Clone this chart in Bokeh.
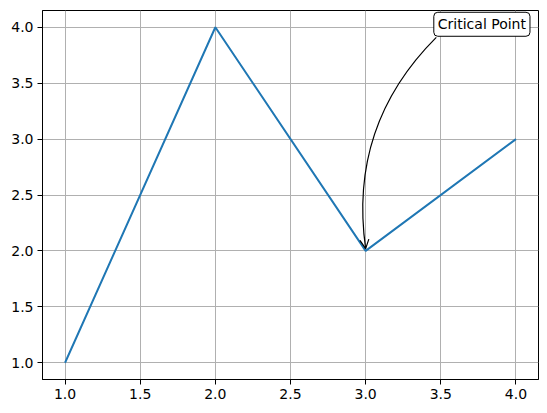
from bokeh.plotting import figure
from bokeh.models import Range1d, FixedTicker, NumeralTickFormatter, Label, Arrow, OpenHead
from bokeh.embed import file_html
from bokeh.resources import INLINE

x_vals = [1, 2, 3, 4]
y_vals = [1, 4, 2, 3]
x_ticks = [1.0, 1.5, 2.0, 2.5, 3.0, 3.5, 4.0]
y_ticks = [1.0, 1.5, 2.0, 2.5, 3.0, 3.5, 4.0]
note_text = "Critical Point"
note_xy = (3.5, 4.0)
crit_idx = 2

FW, FH = 496, 369
x0, x1 = 0.85, 4.15
y0, y1 = 0.85, 4.15

p = figure(width=547, height=413, output_backend="svg", toolbar_location=None,
           frame_width=FW, frame_height=FH,
           x_range=Range1d(x0, x1), y_range=Range1d(y0, y1),
           min_border_left=42, min_border_right=9, min_border_top=10, min_border_bottom=34)
p.background_fill_color = "white"
p.border_fill_color = "white"
p.outline_line_color = "black"
p.outline_line_width = 1

for ax in (p.xaxis, p.yaxis):
    ax.major_tick_in = 0
    ax.major_tick_out = 5
    ax.minor_tick_in = 0
    ax.minor_tick_out = 0
    ax.axis_line_color = "black"
    ax.major_tick_line_color = "black"
    ax.major_label_text_font = "DejaVu Sans"
    ax.major_label_text_font_size = "14px"
    ax.major_label_text_color = "black"
    ax.formatter = NumeralTickFormatter(format="0.0")
p.xaxis.ticker = FixedTicker(ticks=x_ticks)
p.yaxis.ticker = FixedTicker(ticks=y_ticks)
p.xaxis.major_label_standoff = 4
p.yaxis.major_label_standoff = 4

p.grid.grid_line_color = "#b0b0b0"
p.grid.grid_line_width = 1

p.line(x_vals, y_vals, line_color="#1f77b4", line_width=2)

# curved annotation arrow (arc3-like, computed in screen scale)
sx = FW / (x1 - x0)
sy = FH / (y1 - y0)
ex, ey = x_vals[crit_idx], y_vals[crit_idx] + 0.02
stx, sty = note_xy[0] - 0.03, note_xy[1] - 0.09
S = (stx * sx, -sty * sy)
E = (ex * sx, -ey * sy)
mx, my = (S[0] + E[0]) / 2, (S[1] + E[1]) / 2
dx, dy = E[0] - S[0], E[1] - S[1]
r = -0.25
C = (mx + r * dy, my - r * dx)
cx, cy = C[0] / sx, -C[1] / sy
p.quadratic(x0=[stx], y0=[sty], x1=[ex], y1=[ey], cx=[cx], cy=[cy],
            line_color="black", line_width=1.2)
# direction of the curve at its end, in screen pixels
tpx, tpy = (ex - cx) * sx, (ey - cy) * sy
norm = (tpx ** 2 + tpy ** 2) ** 0.5
back = 6.0
p.add_layout(Arrow(end=OpenHead(size=9, line_color="black", line_width=1.2),
                   x_start=ex - tpx / norm * back / sx, y_start=ey - tpy / norm * back / sy,
                   x_end=ex, y_end=ey, line_color="black", line_width=0))

p.add_layout(Label(x=note_xy[0], y=note_xy[1], text=note_text, x_offset=-7, y_offset=3,
                   text_font="DejaVu Sans", text_font_size="14px", text_color="black",
                   text_align="left", text_baseline="middle",
                   background_fill_color="white", border_line_color="black",
                   border_line_width=1, border_radius=4, padding=4))

open("out.html", "w").write(file_html(p, INLINE))
